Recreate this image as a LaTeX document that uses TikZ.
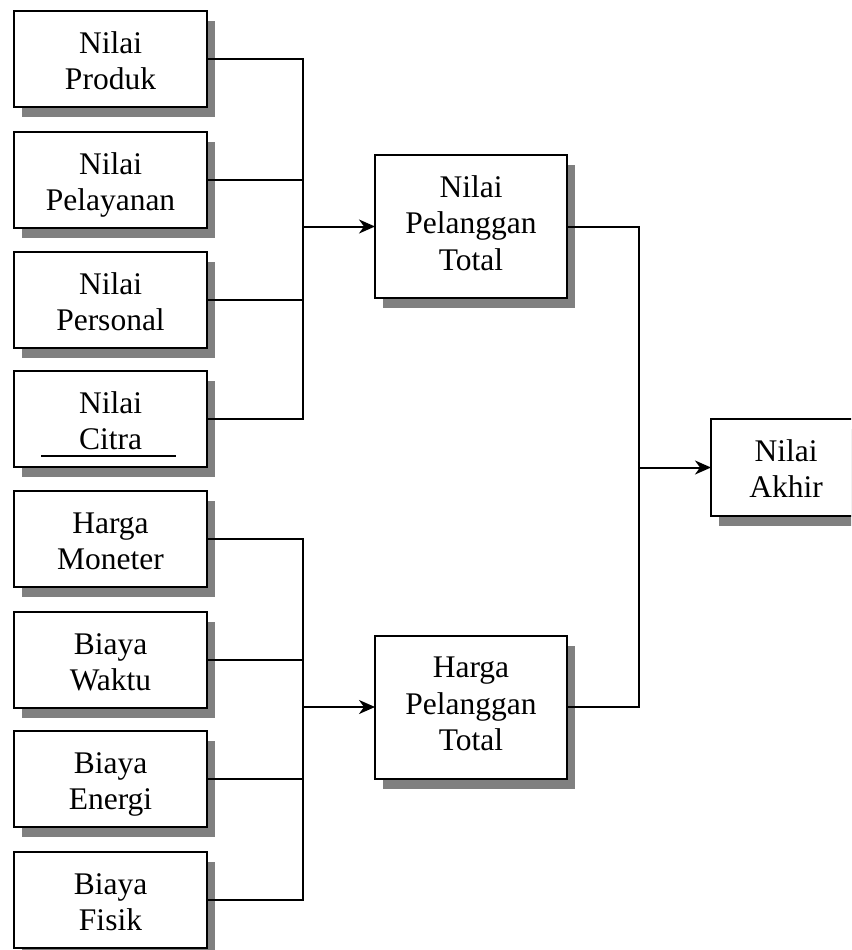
\documentclass[tikz,border=0pt]{standalone}
\usepackage{fontspec}
\setmainfont{Liberation Serif}
\usetikzlibrary{arrows.meta,shadows,calc}
\begin{document}
\begin{tikzpicture}[x=1pt,y=-1pt,
  shadowed/.style={draw=black, fill=white, line width=2pt, inner sep=0pt, outer sep=0pt,
    drop shadow={shadow xshift=8pt, shadow yshift=-10pt, fill=black!50, opacity=1, draw=none}},
  leftbox/.style={shadowed, minimum width=193pt, minimum height=96pt},
  midbox/.style={shadowed, minimum width=192pt, minimum height=143pt},
  endbox/.style={shadowed, minimum width=150pt, minimum height=97pt},
  lbl/.style={font=\fontsize{31.5}{36.5}\selectfont, align=center, inner sep=0pt, anchor=north, yshift=-16.5pt},
  conn/.style={line width=2pt},
  arr/.style={line width=2pt, -{Stealth[length=16pt,width=14pt,inset=5pt]}}
]
\useasboundingbox (0,0) rectangle (851,950);
\clip (0,0) rectangle (851,950);

% left column
\node[leftbox, label={[lbl]north:{\strut Nilai\\\strut Produk}}] (p1) at (110.5,59) {};
\node[leftbox, label={[lbl]north:{\strut Nilai\\\strut Pelayanan}}] (p2) at (110.5,180) {};
\node[leftbox, label={[lbl]north:{\strut Nilai\\\strut Personal}}] (p3) at (110.5,300) {};
\node[leftbox, label={[lbl]north:{\strut Nilai\\\strut Citra}}] (p4) at (110.5,419) {};
\node[leftbox, label={[lbl]north:{\strut Harga\\\strut Moneter}}] (p5) at (110.5,539) {};
\node[leftbox, label={[lbl]north:{\strut Biaya\\\strut Waktu}}] (p6) at (110.5,660) {};
\node[leftbox, label={[lbl]north:{\strut Biaya\\\strut Energi}}] (p7) at (110.5,779) {};
\node[leftbox, label={[lbl]north:{\strut Biaya\\\strut Fisik}}] (p8) at (110.5,900) {};

% middle column
\node[midbox, label={[lbl]north:{\strut Nilai\\\strut Pelanggan\\\strut Total}}] (m1) at (471,226.5) {};
\node[midbox, label={[lbl]north:{\strut Harga\\\strut Pelanggan\\\strut Total}}] (m2) at (471,707) {};

% right
\node[endbox, label={[lbl]north:{\strut Nilai\\\strut Akhir}}] (a) at (786,467.5) {};

% underline in Citra box
\draw[line width=1.2pt] ($(p4.south west)+(27,-11)$) -- ($(p4.south east)+(-31,-11)$);

% buses
\coordinate (bx1) at (303,0);
\coordinate (bx2) at (639,0);

\draw[conn] (p1.east) -- (p1.east -| bx1) -- (p4.east -| bx1) -- (p4.east);
\draw[conn] (p2.east) -- (p2.east -| bx1);
\draw[conn] (p3.east) -- (p3.east -| bx1);
\draw[arr] (m1.west -| bx1) -- (m1.west);

\draw[conn] (p5.east) -- (p5.east -| bx1) -- (p8.east -| bx1) -- (p8.east);
\draw[conn] (p6.east) -- (p6.east -| bx1);
\draw[conn] (p7.east) -- (p7.east -| bx1);
\draw[arr] (m2.west -| bx1) -- (m2.west);

\draw[conn] (m1.east) -- (m1.east -| bx2) -- (m2.east -| bx2) -- (m2.east);
\draw[arr] (a.west -| bx2) -- (a.west);
\end{tikzpicture}
\end{document}
